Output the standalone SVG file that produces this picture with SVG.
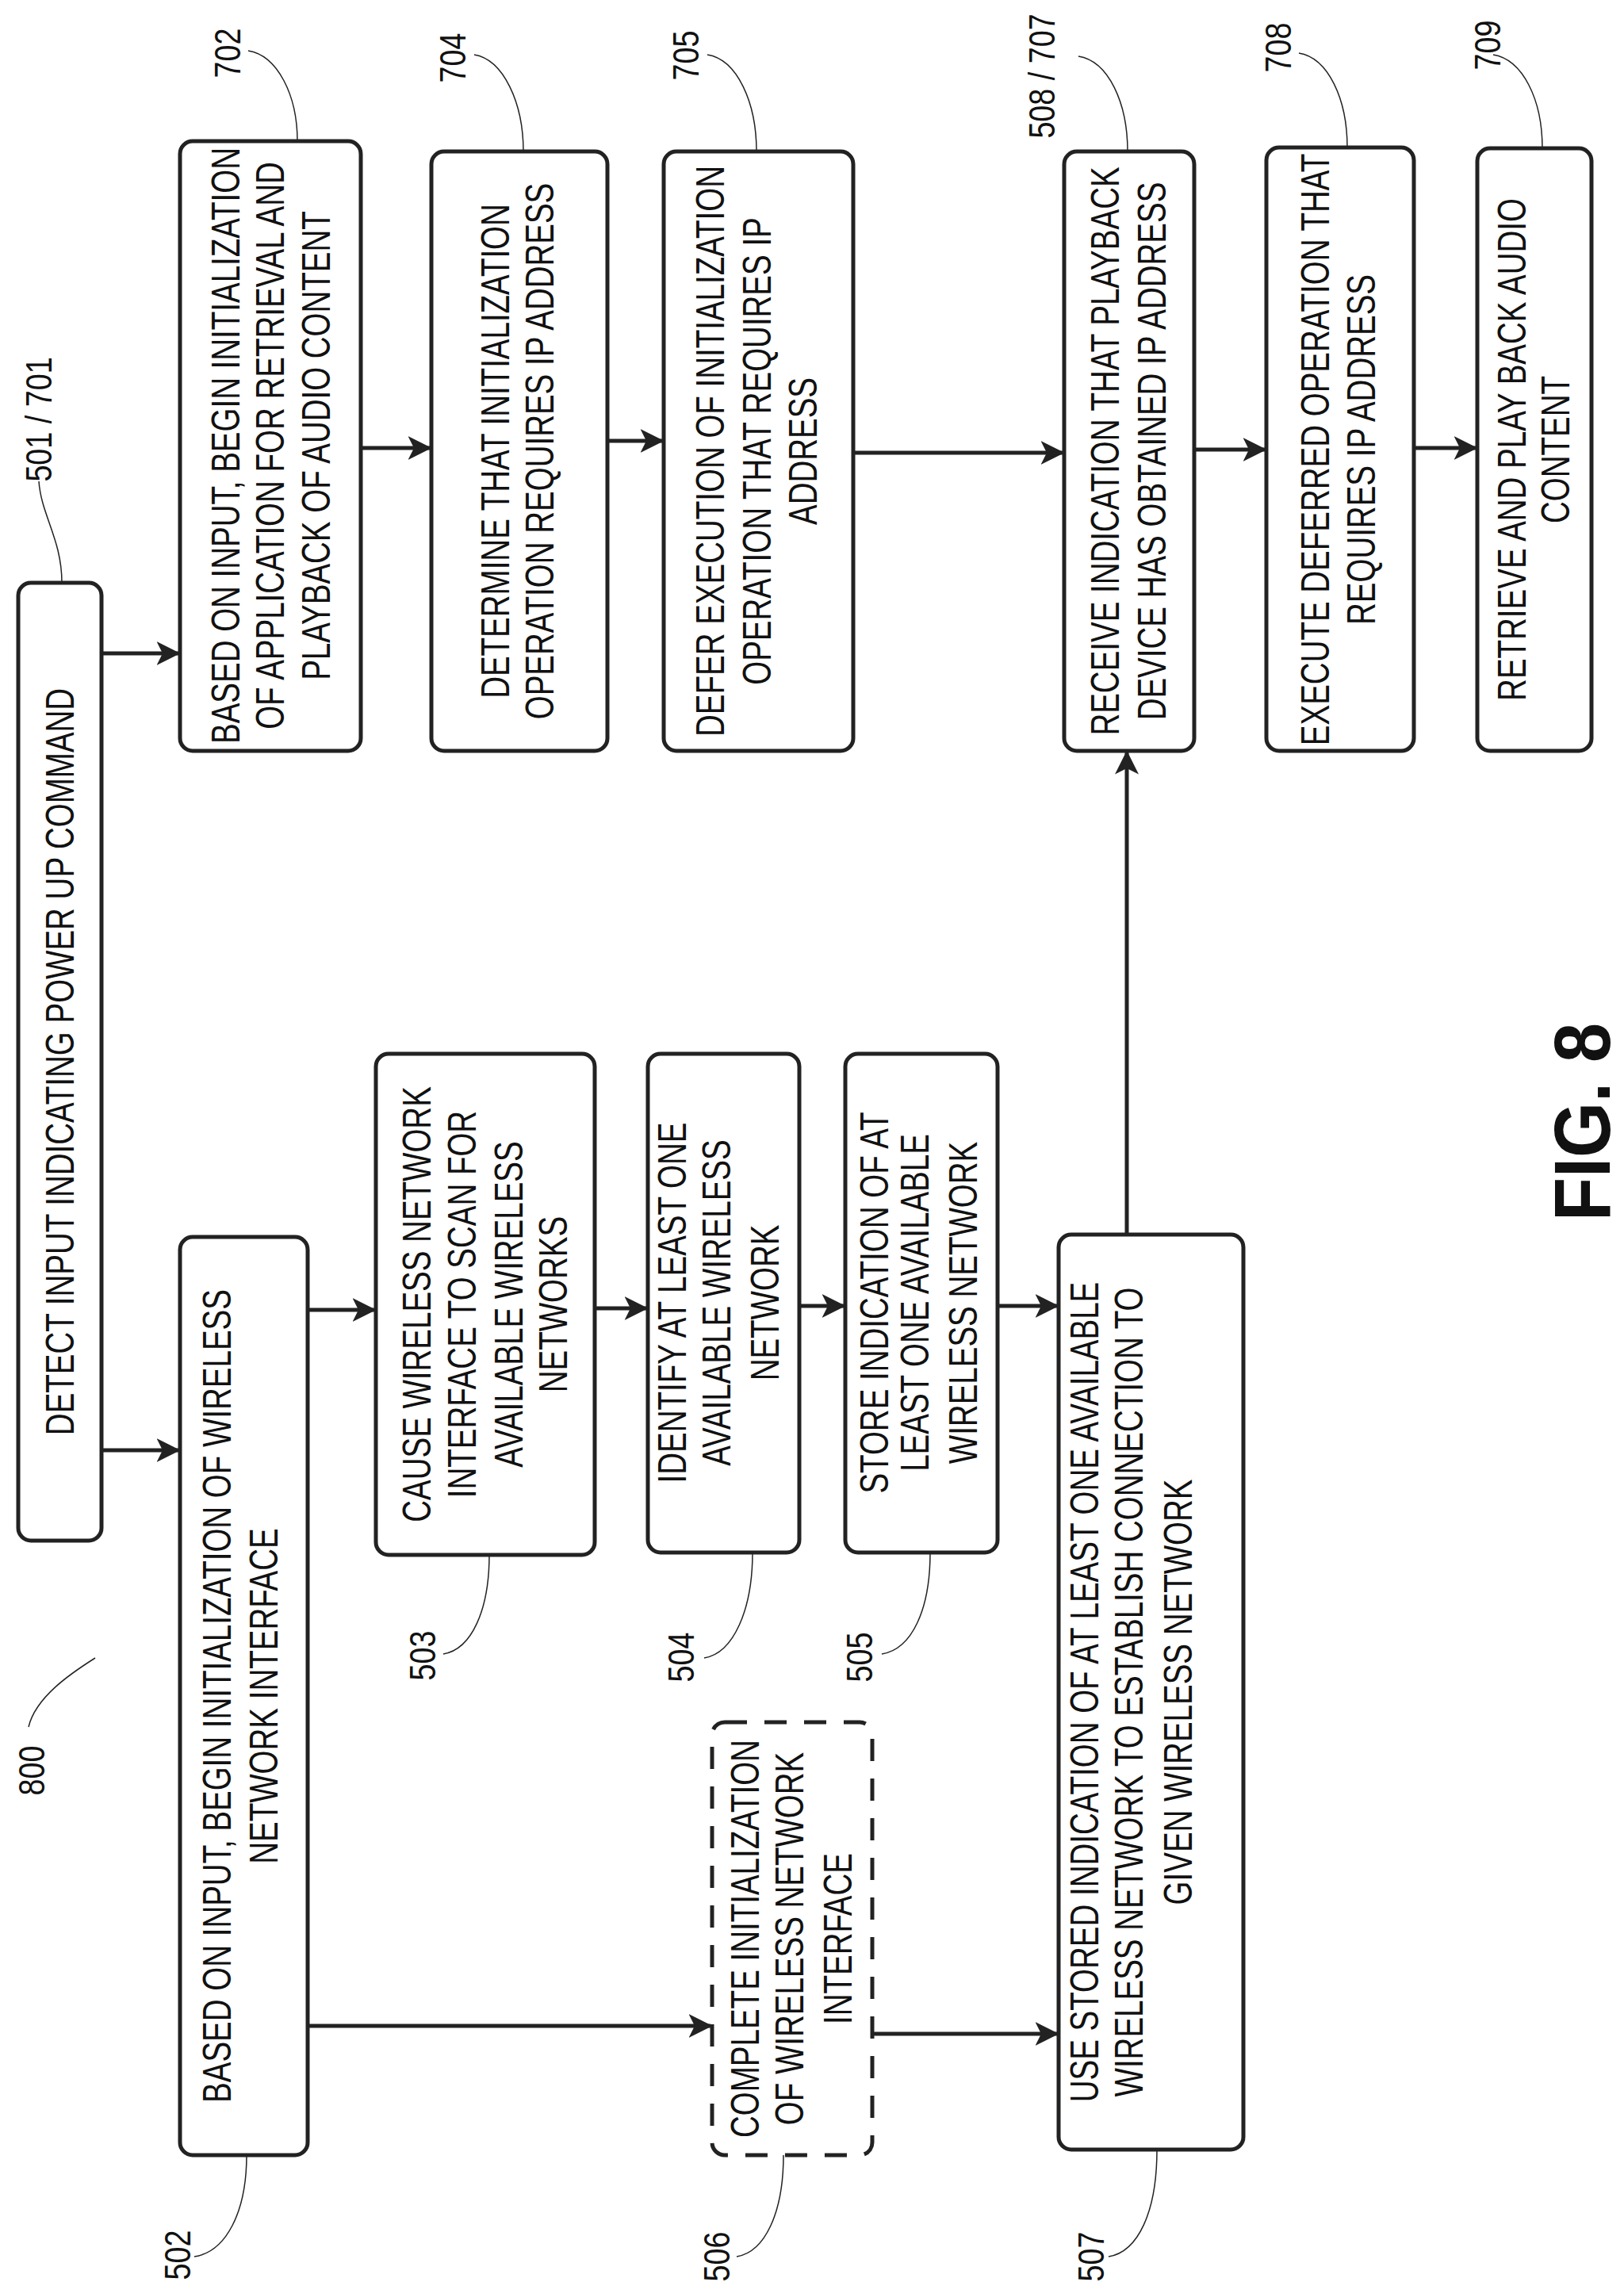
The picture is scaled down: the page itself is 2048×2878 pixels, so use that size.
<svg xmlns="http://www.w3.org/2000/svg" width="2048" height="2878" viewBox="0 0 2048 2878">
<style>
.b{fill:#fff;stroke:#222;stroke-width:5}
.d{fill:none;stroke:#222;stroke-width:5;stroke-dasharray:28,22}
.t{font-family:"Liberation Sans",Arial,sans-serif;font-size:50px;fill:#111;text-anchor:middle}
.l{font-family:"Liberation Sans",Arial,sans-serif;font-size:46px;fill:#111;text-anchor:middle}
.c{fill:none;stroke:#222;stroke-width:5}
.ld{fill:none;stroke:#222;stroke-width:1.5}
</style>
<defs><marker id="a" markerWidth="6" markerHeight="6" refX="5.5" refY="3" orient="auto" markerUnits="strokeWidth"><path d="M0,0 L6,3 L0,6 L1.5,3 Z" fill="#222"/></marker></defs>
<rect width="2048" height="2878" fill="#fff"/>
<g id="n501"><rect class="b" x="23" y="735" width="105" height="1208" rx="16"/>
<text class="t" transform="translate(75,1339) rotate(-90) scale(0.77,1)" dy="18">DETECT INPUT INDICATING POWER UP COMMAND</text></g>
<g id="n702"><rect class="b" x="227" y="178" width="228" height="769" rx="16"/>
<text class="t" transform="translate(284,562) rotate(-90) scale(0.77,1)" dy="18">BASED ON INPUT, BEGIN INITIALIZATION</text>
<text class="t" transform="translate(340,562) rotate(-90) scale(0.77,1)" dy="18">OF APPLICATION FOR RETRIEVAL AND</text>
<text class="t" transform="translate(398,562) rotate(-90) scale(0.77,1)" dy="18">PLAYBACK OF AUDIO CONTENT</text></g>
<g id="n704"><rect class="b" x="544" y="191" width="222" height="756" rx="16"/>
<text class="t" transform="translate(624,569) rotate(-90) scale(0.77,1)" dy="18">DETERMINE THAT INITIALIZATION</text>
<text class="t" transform="translate(680,569) rotate(-90) scale(0.77,1)" dy="18">OPERATION REQUIRES IP ADDRESS</text></g>
<g id="n705"><rect class="b" x="837" y="191" width="239" height="756" rx="16"/>
<text class="t" transform="translate(895,569) rotate(-90) scale(0.77,1)" dy="18">DEFER EXECUTION OF INITIALIZATION</text>
<text class="t" transform="translate(954,569) rotate(-90) scale(0.77,1)" dy="18">OPERATION THAT REQUIRES IP</text>
<text class="t" transform="translate(1012,569) rotate(-90) scale(0.77,1)" dy="18">ADDRESS</text></g>
<g id="n508"><rect class="b" x="1342" y="191" width="164" height="756" rx="16"/>
<text class="t" transform="translate(1393,569) rotate(-90) scale(0.77,1)" dy="18">RECEIVE INDICATION THAT PLAYBACK</text>
<text class="t" transform="translate(1452,569) rotate(-90) scale(0.77,1)" dy="18">DEVICE HAS OBTAINED IP ADDRESS</text></g>
<g id="n708"><rect class="b" x="1597" y="186" width="186" height="761" rx="16"/>
<text class="t" transform="translate(1658,567) rotate(-90) scale(0.77,1)" dy="18">EXECUTE DEFERRED OPERATION THAT</text>
<text class="t" transform="translate(1716,567) rotate(-90) scale(0.77,1)" dy="18">REQUIRES IP ADDRESS</text></g>
<g id="n709"><rect class="b" x="1863" y="187" width="144" height="760" rx="16"/>
<text class="t" transform="translate(1906,567) rotate(-90) scale(0.77,1)" dy="18">RETRIEVE AND PLAY BACK AUDIO</text>
<text class="t" transform="translate(1961,567) rotate(-90) scale(0.77,1)" dy="18">CONTENT</text></g>
<g id="n502"><rect class="b" x="227" y="1560" width="161" height="1158" rx="16"/>
<text class="t" transform="translate(273,2139) rotate(-90) scale(0.77,1)" dy="18">BASED ON INPUT, BEGIN INITIALIZATION OF WIRELESS</text>
<text class="t" transform="translate(332,2139) rotate(-90) scale(0.77,1)" dy="18">NETWORK INTERFACE</text></g>
<g id="n503"><rect class="b" x="474" y="1329" width="276" height="632" rx="16"/>
<text class="t" transform="translate(525,1645) rotate(-90) scale(0.77,1)" dy="18">CAUSE WIRELESS NETWORK</text>
<text class="t" transform="translate(582,1645) rotate(-90) scale(0.77,1)" dy="18">INTERFACE TO SCAN FOR</text>
<text class="t" transform="translate(641,1645) rotate(-90) scale(0.77,1)" dy="18">AVAILABLE WIRELESS</text>
<text class="t" transform="translate(697,1645) rotate(-90) scale(0.77,1)" dy="18">NETWORKS</text></g>
<g id="n504"><rect class="b" x="817" y="1329" width="191" height="629" rx="16"/>
<text class="t" transform="translate(847,1643) rotate(-90) scale(0.77,1)" dy="18">IDENTIFY AT LEAST ONE</text>
<text class="t" transform="translate(903,1643) rotate(-90) scale(0.77,1)" dy="18">AVAILABLE WIRELESS</text>
<text class="t" transform="translate(964,1643) rotate(-90) scale(0.77,1)" dy="18">NETWORK</text></g>
<g id="n505"><rect class="b" x="1066" y="1329" width="192" height="629" rx="16"/>
<text class="t" transform="translate(1102,1643) rotate(-90) scale(0.77,1)" dy="18">STORE INDICATION OF AT</text>
<text class="t" transform="translate(1153,1643) rotate(-90) scale(0.77,1)" dy="18">LEAST ONE AVAILABLE</text>
<text class="t" transform="translate(1214,1643) rotate(-90) scale(0.77,1)" dy="18">WIRELESS NETWORK</text></g>
<g id="n506"><rect class="d" x="898" y="2172" width="202" height="546" rx="16"/>
<text class="t" transform="translate(939,2445) rotate(-90) scale(0.77,1)" dy="18">COMPLETE INITIALIZATION</text>
<text class="t" transform="translate(995,2445) rotate(-90) scale(0.77,1)" dy="18">OF WIRELESS NETWORK</text>
<text class="t" transform="translate(1056,2445) rotate(-90) scale(0.77,1)" dy="18">INTERFACE</text></g>
<g id="n507"><rect class="b" x="1335" y="1557" width="233" height="1154" rx="16"/>
<text class="t" transform="translate(1367,2134) rotate(-90) scale(0.77,1)" dy="18">USE STORED INDICATION OF AT LEAST ONE AVAILABLE</text>
<text class="t" transform="translate(1423,2134) rotate(-90) scale(0.77,1)" dy="18">WIRELESS NETWORK TO ESTABLISH CONNECTION TO</text>
<text class="t" transform="translate(1485,2134) rotate(-90) scale(0.77,1)" dy="18">GIVEN WIRELESS NETWORK</text></g>
<g id="connectors">
<path class="c" marker-end="url(#a)" d="M128,824 H225"/>
<path class="c" marker-end="url(#a)" d="M455,565 H542"/>
<path class="c" marker-end="url(#a)" d="M766,556 H835"/>
<path class="c" marker-end="url(#a)" d="M1076,571 H1340"/>
<path class="c" marker-end="url(#a)" d="M1506,567 H1595"/>
<path class="c" marker-end="url(#a)" d="M1783,565 H1861"/>
<path class="c" marker-end="url(#a)" d="M128,1829 H225"/>
<path class="c" marker-end="url(#a)" d="M388,1652 H472"/>
<path class="c" marker-end="url(#a)" d="M750,1650 H815"/>
<path class="c" marker-end="url(#a)" d="M1008,1647 H1064"/>
<path class="c" marker-end="url(#a)" d="M1258,1647 H1333"/>
<path class="c" marker-end="url(#a)" d="M388,2555 H896"/>
<path class="c" marker-end="url(#a)" d="M1100,2565 H1333"/>
<path class="c" stroke-width="3" marker-end="url(#a)" d="M1421,1557 V949"/>
</g>
<g id="labels">
<path class="ld" d="M49,607 C52,650 78,680 78,735"/>
<path class="ld" d="M313,64 C350,70 375,120 375,178"/>
<path class="ld" d="M598,69 C635,75 660,130 660,191"/>
<path class="ld" d="M892,69 C930,75 954,130 954,191"/>
<path class="ld" d="M1360,71 C1398,77 1422,130 1422,191"/>
<path class="ld" d="M1638,67 C1675,73 1699,125 1699,186"/>
<path class="ld" d="M1883,69 C1920,75 1945,125 1945,187"/>
<path class="ld" d="M36,2178 C45,2140 90,2110 120,2091"/>
<path class="ld" d="M559,2086 C595,2080 617,2030 617,1961"/>
<path class="ld" d="M888,2091 C925,2085 949,2030 949,1958"/>
<path class="ld" d="M1112,2086 C1150,2080 1173,2030 1173,1958"/>
<path class="ld" d="M245,2846 C285,2840 311,2790 311,2718"/>
<path class="ld" d="M929,2846 C965,2840 988,2790 988,2718"/>
<path class="ld" d="M1398,2846 C1435,2840 1459,2790 1459,2711"/>
<text class="l" transform="translate(49,529) rotate(-90) scale(0.82,1)" dy="16">501 / 701</text>
<text class="l" transform="translate(287,67) rotate(-90) scale(0.82,1)" dy="16">702</text>
<text class="l" transform="translate(571,73) rotate(-90) scale(0.82,1)" dy="16">704</text>
<text class="l" transform="translate(865,70) rotate(-90) scale(0.82,1)" dy="16">705</text>
<text class="l" transform="translate(1314,96) rotate(-90) scale(0.82,1)" dy="16">508 / 707</text>
<text class="l" transform="translate(1612,60) rotate(-90) scale(0.82,1)" dy="16">708</text>
<text class="l" transform="translate(1876,57) rotate(-90) scale(0.82,1)" dy="16">709</text>
<text class="l" transform="translate(40,2233) rotate(-90) scale(0.82,1)" dy="16">800</text>
<text class="l" transform="translate(533,2088) rotate(-90) scale(0.82,1)" dy="16">503</text>
<text class="l" transform="translate(859,2090) rotate(-90) scale(0.82,1)" dy="16">504</text>
<text class="l" transform="translate(1084,2090) rotate(-90) scale(0.82,1)" dy="16">505</text>
<text class="l" transform="translate(224,2844) rotate(-90) scale(0.82,1)" dy="16">502</text>
<text class="l" transform="translate(904,2846) rotate(-90) scale(0.82,1)" dy="16">506</text>
<text class="l" transform="translate(1376,2846) rotate(-90) scale(0.82,1)" dy="16">507</text>
<text transform="translate(1994,1415) rotate(-90) scale(0.9,1)" dy="36" text-anchor="middle" font-family="'Liberation Sans',Arial,sans-serif" font-weight="bold" font-size="100" fill="#111">FIG. 8</text>
</g>
</svg>
